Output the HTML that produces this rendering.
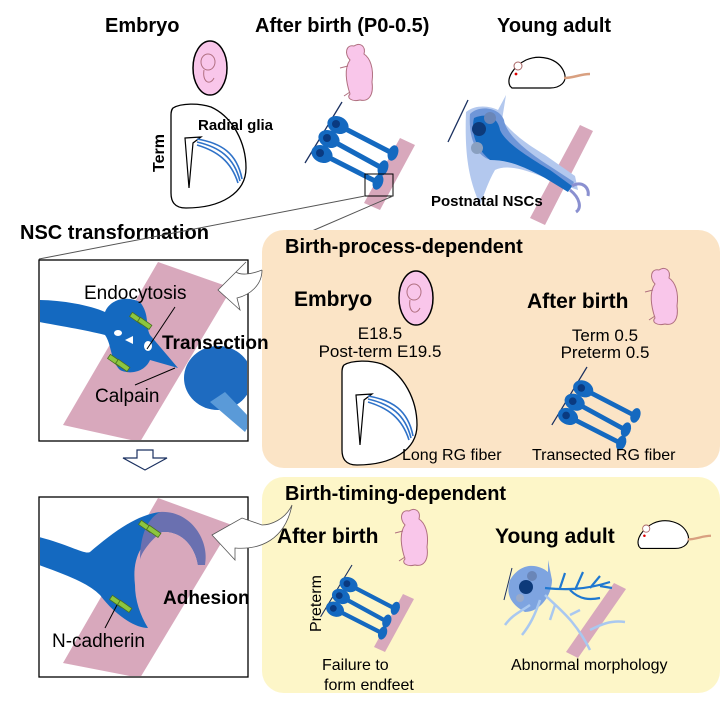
<!DOCTYPE html>
<html><head><meta charset="utf-8"><style>
html,body{margin:0;padding:0;background:#fff;}
svg{display:block;font-family:"Liberation Sans",Arial,sans-serif;}
.b{font-weight:bold;}
</style></head><body>
<svg width="726" height="706" viewBox="0 0 726 706" xmlns="http://www.w3.org/2000/svg">
<defs>
<g id="pup">
<path d="M-6,-26 C-14,-28 -16,-18 -10,-12 C-16,-4 -14,10 -10,22 C-14,26 -8,30 0,28 C8,30 14,24 12,10 C14,-4 10,-14 4,-18 C6,-26 0,-30 -6,-26Z" fill="#f9c6ea" stroke="#b07080" stroke-width="1"/>
<path d="M-12,-6 l-8,2 M-10,20 l-6,4" stroke="#b07080" stroke-width="1" fill="none"/>
</g>
<g id="egg">
<ellipse cx="0" cy="0" rx="17" ry="27" fill="#f9c6ea" stroke="#000" stroke-width="1.5"/>
<ellipse cx="-2" cy="-6" rx="7" ry="8" fill="#f9c6ea" stroke="#b07080" stroke-width="1"/>
<path d="M-6,2 C-8,14 0,18 4,10" stroke="#b07080" fill="none"/>
</g>
<g id="mouse">
<path d="M-30,14 C-34,6 -26,-6 -14,-12 C0,-18 18,-14 24,0 C28,10 20,16 10,16 L-28,16Z" fill="#fff" stroke="#000" stroke-width="1.2"/>
<circle cx="-22" cy="-6" r="4" fill="#fff" stroke="#a66" stroke-width="1"/>
<circle cx="-24" cy="2" r="1.4" fill="#d00"/>
<path d="M24,6 C34,6 40,2 50,2" stroke="#d9a080" stroke-width="2.5" fill="none"/>
</g>
<g id="cells">
<path d="M0,0 L-37,61" stroke="#1a3060" stroke-width="1.3"/>
<g stroke="#1469c0" stroke-width="5" stroke-linecap="round">
<line x1="-4" y1="23" x2="50" y2="51"/><line x1="-13" y1="37" x2="40" y2="66"/><line x1="-20" y1="52" x2="35" y2="80"/>
</g>
<g fill="#1469c0">
<ellipse cx="-4" cy="23" rx="11" ry="8.5" transform="rotate(25 -4 23)"/><ellipse cx="-13" cy="37" rx="11" ry="8.5" transform="rotate(25 -13 37)"/><ellipse cx="-20" cy="52" rx="11" ry="8.5" transform="rotate(25 -20 52)"/>
<ellipse cx="51" cy="51" rx="5" ry="8" transform="rotate(20 51 51)"/><ellipse cx="41" cy="66" rx="5" ry="8" transform="rotate(20 41 66)"/><ellipse cx="36" cy="80" rx="5" ry="8" transform="rotate(20 36 80)"/>
</g>
<g fill="#0a3a80"><circle cx="-6" cy="22" r="4"/><circle cx="-15" cy="36" r="4"/><circle cx="-22" cy="51" r="4"/></g>
</g>
<g id="brain">
<path d="M2,5 C10,0 28,0 40,4 C62,14 75,40 75,65 C75,90 50,105 15,105 C3,105 0,98 0,90 L0,12 C0,9 1,6 2,5Z" fill="#fff" stroke="#000" stroke-width="1.3"/>
<path d="M14,35 L30,34 L22,40 L18,85 Z" fill="#fff" stroke="#000" stroke-width="1.2"/>
<path d="M26,36 C50,40 66,50 71,76 M26,39 C48,44 63,54 69,78 M26,42 C46,48 60,58 67,80" stroke="#2f72c8" stroke-width="1.6" fill="none"/>
</g>
</defs>

<text x="105" y="32" class="b" font-size="20">Embryo</text>
<text x="255" y="32" class="b" font-size="20">After birth (P0-0.5)</text>
<text x="497" y="32" class="b" font-size="20">Young adult</text>

<use href="#egg" x="210" y="68"/>
<use href="#pup" x="360" y="72"/>
<use href="#mouse" x="540" y="72"/>

<use href="#brain" x="171" y="103"/>
<text transform="translate(164,172) rotate(-90)" class="b" font-size="16">Term</text>
<text x="198" y="130" class="b" font-size="15">Radial glia</text>

<polygon points="400,138 415,145 380,210 364,203" fill="#d8a8bc"/>
<use href="#cells" x="342" y="102"/>
<rect x="365" y="174" width="28" height="22" fill="none" stroke="#000" stroke-width="1"/>

<polygon points="580,125 593,131 545,225 530,218" fill="#d8a8bc"/>
<path d="M466,112 C476,104 490,106 498,110 L506,95 L502,120 C510,130 520,140 545,155 L575,176 L578,190 L566,186 L538,175 C520,168 505,165 495,170 C488,182 484,195 480,205 C472,185 464,165 466,112Z" fill="#b3c8ee"/>
<path d="M470,114 C480,104 500,108 504,120 C506,134 525,150 548,165 L574,182 L570,190 L543,174 C522,162 505,160 492,160 C478,158 468,140 470,114Z" fill="#6f96d8"/>
<path d="M474,118 C488,112 498,118 500,130 C505,142 525,155 550,170 L572,186 L568,192 L545,178 C520,164 505,160 490,160 C478,150 470,135 474,118Z" fill="#1469c0"/>
<circle cx="479" cy="129" r="7" fill="#0d3a7a"/><circle cx="490" cy="118" r="6" fill="#6a86b8"/>
<circle cx="477" cy="148" r="6" fill="#8aa0c0"/>
<path d="M468,100 l-20,42" stroke="#1a3060" stroke-width="1.3"/>
<path d="M572,186 C582,180 590,188 588,196 M570,190 C580,198 582,208 576,212" stroke="#8a90d0" stroke-width="3" fill="none"/>
<text x="431" y="206" class="b" font-size="15">Postnatal NSCs</text>

<text x="20" y="239" class="b" font-size="20">NSC transformation</text>
<line x1="365" y1="196" x2="39" y2="259" stroke="#555" stroke-width="1"/>
<line x1="393" y1="196" x2="312" y2="231" stroke="#555" stroke-width="1"/>

<rect x="262" y="230" width="458" height="238" rx="22" fill="#fbe4c6"/>
<rect x="262" y="477" width="458" height="216" rx="22" fill="#fdf6c8"/>

<text x="285" y="253" class="b" font-size="20">Birth-process-dependent</text>
<text x="294" y="306" class="b" font-size="21">Embryo</text>
<use href="#egg" x="416" y="298"/>
<text x="527" y="308" class="b" font-size="21">After birth</text>
<use href="#pup" x="665" y="296"/>
<text x="380" y="339" font-size="17" text-anchor="middle">E18.5</text>
<text x="380" y="357" font-size="17" text-anchor="middle">Post-term E19.5</text>
<text x="605" y="341" font-size="17" text-anchor="middle">Term 0.5</text>
<text x="605" y="358" font-size="17" text-anchor="middle">Preterm 0.5</text>
<use href="#brain" x="342" y="360"/>
<use href="#cells" x="587" y="367" transform="translate(587,367) scale(0.95) translate(-587,-367)"/>
<text x="402" y="460" font-size="16">Long RG fiber</text>
<text x="532" y="460" font-size="16">Transected RG fiber</text>

<text x="285" y="500" class="b" font-size="20">Birth-timing-dependent</text>
<text x="277" y="543" class="b" font-size="21">After birth</text>
<use href="#pup" x="415" y="537"/>
<text x="495" y="543" class="b" font-size="21">Young adult</text>
<use href="#mouse" x="666" y="534" transform="translate(666,534) scale(0.9) translate(-666,-534)"/>
<text transform="translate(321,632) rotate(-90)" font-size="16">Preterm</text>
<polygon points="403,594 414,599 385,652 374,647" fill="#d8a8bc"/>
<use href="#cells" x="352" y="565" transform="translate(352,565) scale(0.85) translate(-352,-565)"/>
<text x="322" y="670" font-size="16">Failure to</text>
<text x="324" y="690" font-size="16">form endfeet</text>

<polygon points="614,583 626,589 578,658 566,652" fill="#d8a8bc"/>
<path d="M510,580 C522,560 540,565 548,572 L548,560 L552,580 C552,595 540,612 525,612 C512,605 505,595 510,580Z" fill="#7ea4e0"/>
<circle cx="526" cy="587" r="7" fill="#0d3a7a"/><circle cx="532" cy="576" r="5" fill="#6a86b8"/><circle cx="520" cy="598" r="4" fill="#9aaac8"/>
<path d="M545,595 C560,610 575,620 590,650 M540,600 C535,615 530,625 522,635 M555,605 l-5,15 M570,615 l10,-5 M590,630 C600,625 610,620 625,622 M530,605 C520,612 512,615 505,625" stroke="#a9c8f0" stroke-width="2.5" fill="none"/>
<path d="M545,588 C565,590 585,590 610,582 M560,588 l5,-15 M575,590 l8,-18 M590,588 l10,-12 M600,586 l12,2 M570,590 C580,600 590,600 600,598" stroke="#1f78d0" stroke-width="2.2" fill="none"/>
<path d="M512,568 l-8,32" stroke="#1a3060" stroke-width="1"/>
<text x="511" y="670" font-size="16">Abnormal morphology</text>

<rect x="39" y="260" width="209" height="181" fill="#fff" stroke="#000" stroke-width="1.3"/>
<clipPath id="c1"><rect x="40" y="261" width="207" height="179"/></clipPath>
<g clip-path="url(#c1)">
<polygon points="158,262 232,288 140,442 63,425" fill="#d8a8bc"/>
<path d="M39,300 C60,300 90,305 105,312 C110,300 125,295 140,302 C150,315 145,325 150,335 L178,368 L150,360 C145,372 130,375 120,370 C110,360 112,345 105,335 C85,330 55,325 39,322Z" fill="#1469c0"/>
<ellipse cx="118" cy="333" rx="4" ry="3" fill="#fff"/><ellipse cx="148" cy="346" rx="4" ry="5" fill="#fff"/>
<path d="M125,340 l8,-4 l0,8Z" fill="#fff"/>
<ellipse cx="218" cy="378" rx="34" ry="32" fill="#1e6bc0"/>
<path d="M225,392 L252,420 L245,432 L210,402Z" fill="#5a9ad8"/>
<g fill="#8cc63f" stroke="#4a7020" stroke-width="0.8">
<rect x="130" y="316" width="14" height="5" transform="rotate(35 137 318)"/><rect x="138" y="321" width="14" height="5" transform="rotate(35 145 323)"/>
<rect x="108" y="358" width="14" height="5" transform="rotate(35 115 360)"/><rect x="116" y="363" width="14" height="5" transform="rotate(35 123 365)"/>
</g>
</g>
<line x1="175" y1="307" x2="147" y2="349" stroke="#000" stroke-width="1"/>
<line x1="175" y1="368" x2="135" y2="385" stroke="#000" stroke-width="1"/>
<text x="84" y="299" font-size="19">Endocytosis</text>
<text x="162" y="349" class="b" font-size="19">Transection</text>
<text x="95" y="402" font-size="19">Calpain</text>
<path d="M262,270 C250,275 240,275 236,272 L246,262 L218,290 L240,310 L237,298 C250,295 262,285 262,270" fill="#fff" stroke="#555" stroke-width="0.8"/>

<path d="M123,458 L137,458 L137,450 L153,450 L153,458 L167,458 L145,470Z" fill="#fff" stroke="#1a3060" stroke-width="1.2"/>

<rect x="39" y="497" width="209" height="180" fill="#fff" stroke="#000" stroke-width="1.3"/>
<clipPath id="c2"><rect x="40" y="498" width="207" height="178"/></clipPath>
<g clip-path="url(#c2)">
<polygon points="158,498 232,525 140,678 63,663" fill="#d8a8bc"/>
<path d="M39,537 C70,545 85,555 90,552 C110,535 135,515 160,512 C190,512 205,540 205,565 L198,565 C195,545 180,530 162,532 C140,540 132,560 135,585 C135,600 140,615 148,628 C135,628 115,615 100,595 C90,585 75,578 39,565Z" fill="#1469c0"/>
<path d="M160,512 C190,510 210,540 205,565 L198,565 C195,545 180,530 162,532 C150,540 140,555 140,560 C140,540 145,520 160,512Z" fill="#6a70b0"/>
<g fill="#8cc63f" stroke="#4a7020" stroke-width="0.8">
<rect x="139" y="524" width="14" height="5" transform="rotate(35 146 526)"/><rect x="147" y="529" width="14" height="5" transform="rotate(35 154 531)"/>
<rect x="110" y="599" width="14" height="5" transform="rotate(35 117 601)"/><rect x="118" y="604" width="14" height="5" transform="rotate(35 125 606)"/>
</g>
</g>
<line x1="117" y1="605" x2="105" y2="628" stroke="#000" stroke-width="1"/>
<text x="163" y="604" class="b" font-size="19">Adhesion</text>
<text x="52" y="647" font-size="19">N-cadherin</text>
<path d="M292,505 C285,520 270,525 262,525 L242,518 L212,535 L235,560 L235,548 C260,550 285,540 292,505" fill="#fff" stroke="#555" stroke-width="0.8"/>
</svg>
</body></html>
